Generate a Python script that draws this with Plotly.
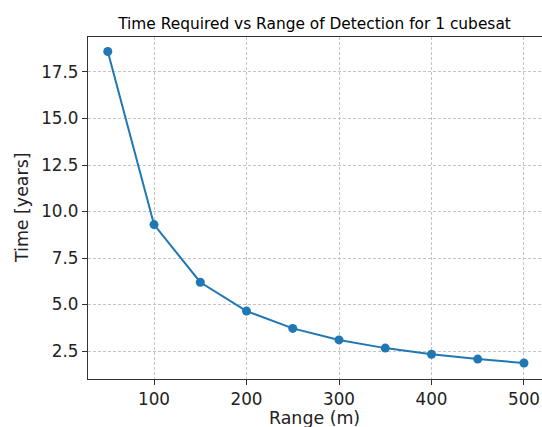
import plotly.graph_objects as go

ranges_m = [50, 100, 150, 200, 250, 300, 350, 400, 450, 500]
time_years = [18.6, 9.3, 6.2, 4.65, 3.72, 3.1, 2.66, 2.33, 2.07, 1.86]
x_ticks = [100, 200, 300, 400, 500]
y_ticks = [2.5, 5.0, 7.5, 10.0, 12.5, 15.0, 17.5]

FONT = "DejaVu Sans"
W, H = 542, 427
fig = go.Figure()
fig.add_trace(go.Scatter(
    x=ranges_m, y=time_years, mode="lines+markers",
    line=dict(color="#1f77b4", width=2),
    marker=dict(color="#1f77b4", size=9),
    showlegend=False, cliponaxis=False,
))
fig.update_layout(
    width=W, height=H,
    margin=dict(l=88, r=0, t=37, b=48, autoexpand=False),
    paper_bgcolor="white", plot_bgcolor="white",
    font=dict(family=FONT, color="#222222"),
    title=dict(text="Time Required vs Range of Detection for 1 cubesat",
               x=(117 + 512) / 2 / W, xanchor="center", y=1 - 24 / H, yanchor="middle",
               font=dict(size=15.4, family=FONT, color="black")),
    annotations=[
        dict(text="Range (m)", xref="paper", yref="paper", x=(314 - 88) / (W - 88),
             y=-(418 - 379) / (379 - 37), xanchor="center", yanchor="middle",
             showarrow=False, font=dict(size=17.4, family=FONT, color="#222222")),
        dict(text="Time [years]", xref="paper", yref="paper", x=-(88 - 22) / (W - 88),
             y=(379 - 208) / (379 - 37), xanchor="center", yanchor="middle", textangle=-90,
             showarrow=False, font=dict(size=17.4, family=FONT, color="#222222")),
    ],
)
grid = dict(showgrid=True, gridcolor="#c4c4c4", griddash="3px,2px", gridwidth=0.7)
fig.update_xaxes(
    range=[28.6, 519.5], tickvals=x_ticks, ticktext=[str(v) for v in x_ticks],
    showline=True, linecolor="#333333", linewidth=1.2, mirror=True,
    ticks="outside", ticklen=5, tickcolor="#333333", tickwidth=1,
    tickfont=dict(size=16.8, family=FONT, color="#222222"),
    zeroline=False, automargin=False, **grid,
)
fig.update_yaxes(
    range=[1.0, 19.38], tickvals=y_ticks, ticktext=[f"{v:.1f}" for v in y_ticks],
    showline=True, linecolor="#333333", linewidth=1.2, mirror=False,
    ticks="outside", ticklen=5, tickcolor="#333333", tickwidth=1,
    tickfont=dict(size=16.8, family=FONT, color="#222222"),
    zeroline=False, automargin=False, **grid,
)
fig.write_html("out.html", config={"displayModeBar": False},
               post_script="document.body.style.margin='0';document.body.style.overflow='hidden';")
